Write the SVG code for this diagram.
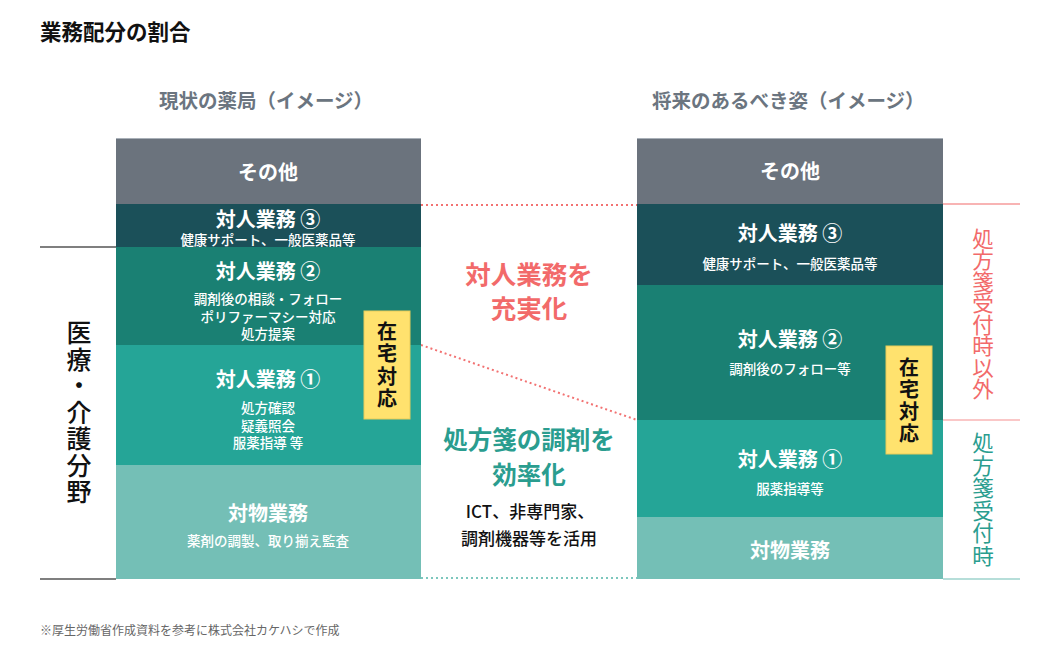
<svg xmlns="http://www.w3.org/2000/svg" width="1046" height="647" viewBox="0 0 1046 647">
<style>
text{font-family:"Noto Sans CJK JP","Noto Sans",sans-serif;}
.w{fill:#fff;text-anchor:middle;dominant-baseline:central;}
.t{font-size:20px;font-weight:700;}
.s{font-size:13.5px;font-weight:500;}
.v{text-anchor:middle;dominant-baseline:central;}
.vert{writing-mode:vertical-rl;text-orientation:upright;text-anchor:middle;}
.sub{fill:#6b7580;font-size:19.5px;font-weight:700;}
.other{fill:#6b737d;}
.p3{fill:#1b5059;}
.p2{fill:#1a8073;}
.p1{fill:#25a597;}
.obj{fill:#74bfb6;}
.yel{fill:#ffe26e;stroke:#e8cc5a;stroke-width:1;}
</style>
<rect width="1046" height="647" fill="#fff"/>
<text x="40" y="30" font-size="21.5" font-weight="700" fill="#111" dominant-baseline="central">業務配分の割合</text>
<text x="159" y="99" class="sub" dominant-baseline="central">現状の薬局（イメージ）</text>
<text x="652" y="99" class="sub" dominant-baseline="central">将来のあるべき姿（イメージ）</text>

<g id="connectors" fill="none" stroke-width="2">
<line x1="40" y1="247" x2="116" y2="247" stroke="#555" stroke-width="1.5"/>
<line x1="40" y1="579" x2="116" y2="579" stroke="#555" stroke-width="1.5"/>
<line x1="421" y1="205" x2="637" y2="205" stroke="#f27272" stroke-dasharray="2,3"/>
<line x1="421" y1="345" x2="637" y2="420" stroke="#f27272" stroke-dasharray="2,3"/>
<line x1="421" y1="578" x2="637" y2="578" stroke="#7cc7bd" stroke-dasharray="2,3"/>
<line x1="943" y1="204" x2="1020" y2="204" stroke="#f26a6a" stroke-width="1.2"/>
<line x1="943" y1="420" x2="1020" y2="420" stroke="#f5908f" stroke-width="1.2"/>
<line x1="943" y1="579" x2="1020" y2="579" stroke="#6fbdb3" stroke-width="1.2"/>
</g>

<g id="left-column">
<g id="l-other"><rect x="116" y="138" width="305" height="66" class="other"/><line x1="116" y1="138.5" x2="421" y2="138.5" stroke="#a9b0b8"/><text x="268" y="171" class="w t">その他</text></g>
<g id="l-p3"><rect x="116" y="204" width="305" height="43" class="p3"/><text x="268" y="218" class="w t">対人業務 ③</text><text x="268" y="238.5" class="w s">健康サポート、一般医薬品等</text></g>
<g id="l-p2"><rect x="116" y="247" width="305" height="98" class="p2"/><text x="268" y="270" class="w t">対人業務 ②</text><text x="268" y="298" class="w s">調剤後の相談・フォロー</text><text x="268" y="315.5" class="w s">ポリファーマシー対応</text><text x="268" y="333" class="w s">処方提案</text></g>
<g id="l-p1"><rect x="116" y="345" width="305" height="120" class="p1"/><text x="268" y="378" class="w t">対人業務 ①</text><text x="268" y="407" class="w s">処方確認</text><text x="268" y="424.5" class="w s">疑義照会</text><text x="268" y="442" class="w s">服薬指導 等</text></g>
<g id="l-obj"><rect x="116" y="465" width="305" height="114" class="obj"/><text x="268" y="512" class="w t">対物業務</text><text x="268" y="540" class="w s">薬剤の調製、取り揃え監査</text></g>
<g id="l-home"><rect x="364" y="311" width="46" height="108" class="yel"/><text x="387" y="366" class="vert" font-size="20" font-weight="700" fill="#111" letter-spacing="2.5">在宅対応</text></g>
</g>

<g id="left-label"><text x="79" y="413" class="vert" font-size="25" font-weight="500" fill="#111" letter-spacing="1.5">医療・介護分野</text></g>

<g id="right-column">
<g id="r-other"><rect x="637" y="138" width="306" height="66" class="other"/><line x1="637" y1="138.5" x2="943" y2="138.5" stroke="#a9b0b8"/><text x="790" y="170" class="w t">その他</text></g>
<g id="r-p3"><rect x="637" y="204" width="306" height="81" class="p3"/><text x="790" y="232" class="w t">対人業務 ③</text><text x="790" y="263" class="w s">健康サポート、一般医薬品等</text></g>
<g id="r-p2"><rect x="637" y="285" width="306" height="135" class="p2"/><text x="790" y="338" class="w t">対人業務 ②</text><text x="790" y="368" class="w s">調剤後のフォロー等</text></g>
<g id="r-p1"><rect x="637" y="420" width="306" height="97" class="p1"/><text x="790" y="458" class="w t">対人業務 ①</text><text x="790" y="488" class="w s">服薬指導等</text></g>
<g id="r-obj"><rect x="637" y="517" width="306" height="62" class="obj"/><text x="790" y="549" class="w t">対物業務</text></g>
<g id="r-home"><rect x="886" y="346" width="46" height="108" class="yel"/><text x="909" y="401" class="vert" font-size="20" font-weight="700" fill="#111" letter-spacing="2">在宅対応</text></g>
</g>

<g id="right-labels">
<text x="983" y="314" class="vert" font-size="21.5" fill="#f26a6a">処方箋受付時以外</text>
<text x="983" y="500" class="vert" font-size="21.5" fill="#2a9d8f" letter-spacing="1">処方箋受付時</text>
</g>

<g id="middle-labels">
<text x="529" y="272" class="v" font-size="25.5" font-weight="700" fill="#f26a6a">対人業務を</text>
<text x="529" y="306" class="v" font-size="25.5" font-weight="700" fill="#f26a6a">充実化</text>
<text x="529" y="438" class="v" font-size="24.5" font-weight="700" fill="#2a9d8f">処方箋の調剤を</text>
<text x="529" y="473" class="v" font-size="24.5" font-weight="700" fill="#2a9d8f">効率化</text>
<text x="530" y="510" class="v" font-size="17" font-weight="500" fill="#111">ICT、非専門家、</text>
<text x="529" y="537" class="v" font-size="17" font-weight="500" fill="#111">調剤機器等を活用</text>
</g>

<text x="40" y="629" font-size="12" fill="#666" dominant-baseline="central">※厚生労働省作成資料を参考に株式会社カケハシで作成</text>
</svg>
